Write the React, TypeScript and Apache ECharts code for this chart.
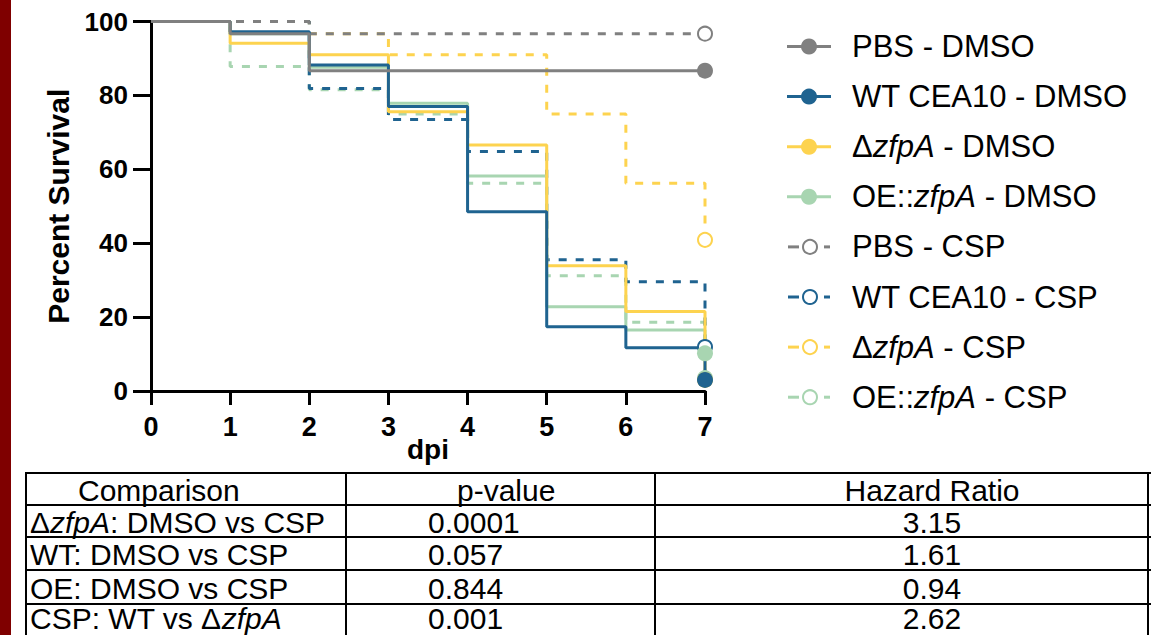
import React, { useEffect, useRef } from 'react';
import * as echarts from 'echarts';

// ---------- data ----------
const days = [0, 1, 2, 3, 4, 5, 6, 7];
const yTicks = [0, 20, 40, 60, 80, 100];

const seriesNames = [
  'PBS - DMSO',
  'WT CEA10 - DMSO',
  'ΔzfpA - DMSO',
  'OE::zfpA - DMSO',
  'PBS - CSP',
  'WT CEA10 - CSP',
  'ΔzfpA - CSP',
  'OE::zfpA - CSP',
];
// value[i] = percent survival from day i onward
const pbsDmso = [100, 96.7, 86.7, 86.7, 86.7, 86.7, 86.7, 86.7];
const wtDmso = [100, 97.2, 88.2, 77.0, 48.5, 17.4, 11.7, 3.0];
const dzfpaDmso = [100, 94.1, 91.0, 75.6, 66.6, 33.9, 21.5, 3.0];
const oeDmso = [100, 96.7, 87.6, 77.9, 58.2, 22.8, 16.5, 10.2];
const pbsCsp = [100, 100, 96.7, 96.7, 96.7, 96.7, 96.7, 96.7];
const wtCsp = [100, 100, 81.9, 73.5, 64.8, 35.5, 29.6, 11.9];
const dzfpaCsp = [100, 100, 96.7, 91.0, 91.0, 75.0, 56.2, 40.9];
const oeCsp = [100, 87.8, 81.5, 75.0, 56.2, 31.2, 18.6, 3.5];

const seriesValues = [pbsDmso, wtDmso, dzfpaDmso, oeDmso, pbsCsp, wtCsp, dzfpaCsp, oeCsp];
const seriesColors = ['#808080', '#1f6390', '#fdd34f', '#a8d5b1', '#808080', '#1f6390', '#fdd34f', '#a8d5b1'];
const seriesDashed = [false, false, false, false, true, true, true, true];

const tableHeader = ['Comparison', 'p-value', 'Hazard Ratio'];
const comparisons = ['ΔzfpA: DMSO vs CSP', 'WT: DMSO vs CSP', 'OE: DMSO vs CSP', 'CSP: WT vs ΔzfpA'];
const pValues = ['0.0001', '0.057', '0.844', '0.001'];
const hazardRatios = ['3.15', '1.61', '0.94', '2.62'];

// ---------- helpers ----------
const FONT = '"Liberation Sans", Arial, Helvetica, sans-serif';

const toRich = (s: string) => {
  const parts = s.split('zfpA');
  let out = '';
  parts.forEach((p, i) => {
    if (p) out += '{n|' + p + '}';
    if (i < parts.length - 1) out += '{i|zfpA}';
  });
  return out;
};

export default function App() {
  const ref = useRef<HTMLDivElement>(null);

  useEffect(() => {
    if (!ref.current) return;
    const chart = echarts.init(ref.current, undefined, { renderer: 'svg' });

    const series: any[] = [];
    for (let k = seriesNames.length - 1; k >= 0; k--) {
      const vals = seriesValues[k];
      const color = seriesColors[k];
      const dashed = seriesDashed[k];
      series.push({
        type: 'line',
        name: seriesNames[k],
        step: 'end',
        clip: false,
        silent: true,
        symbol: 'circle',
        symbolSize: dashed ? 14 : 16,
        showSymbol: true,
        showAllSymbol: true,
        data: vals.map((v, i) =>
          i === vals.length - 1
            ? { value: [days[i], v] }
            : { value: [days[i], v], symbol: 'none' }
        ),
        lineStyle: {
          color,
          width: 3,
          type: dashed ? [8, 9] : 'solid',
        },
        itemStyle: {
          color: dashed ? '#ffffff' : color,
          borderColor: color,
          borderWidth: dashed ? 2 : 0,
          opacity: 1,
        },
        emphasis: { disabled: true },
      });
    }

    const graphics: any[] = [];
    // left maroon stripe
    graphics.push({ type: 'rect', shape: { x: 0, y: 0, width: 11, height: 635 }, style: { fill: '#7f0000' }, silent: true });

    // legend
    const richStyle = {
      n: { fontFamily: FONT, fontSize: 31, fill: '#000' },
      i: { fontFamily: FONT, fontSize: 31, fontStyle: 'italic', fill: '#000' },
    };
    seriesNames.forEach((name, k) => {
      const y = 46.5 + 50.1 * k;
      const color = seriesColors[k];
      if (seriesDashed[k]) {
        graphics.push({ type: 'line', shape: { x1: 788, y1: y, x2: 799, y2: y }, style: { stroke: color, lineWidth: 3 } });
        graphics.push({ type: 'line', shape: { x1: 824, y1: y, x2: 830, y2: y }, style: { stroke: color, lineWidth: 3 } });
        graphics.push({ type: 'circle', shape: { cx: 810, cy: y, r: 7 }, style: { fill: '#fff', stroke: color, lineWidth: 2 } });
      } else {
        graphics.push({ type: 'line', shape: { x1: 787, y1: y, x2: 831, y2: y }, style: { stroke: color, lineWidth: 3 } });
        graphics.push({ type: 'circle', shape: { cx: 809, cy: y, r: 8 }, style: { fill: color } });
      }
      graphics.push({
        type: 'text',
        x: 852,
        y: y,
        style: { text: toRich(name), rich: richStyle, verticalAlign: 'middle', align: 'left' },
      });
    });

    // table
    const tLeft = 26, c1 = 346, c2 = 655, tRight = 1148;
    const hLines = [473, 505, 537, 570, 604, 637];
    hLines.forEach((yy) => {
      graphics.push({ type: 'line', shape: { x1: tLeft - 1, y1: yy, x2: 1151, y2: yy }, style: { stroke: '#000', lineWidth: 2 } });
    });
    [tLeft, c1, c2, tRight].forEach((xx) => {
      graphics.push({ type: 'line', shape: { x1: xx, y1: 472, x2: xx, y2: 640 }, style: { stroke: '#000', lineWidth: 2 } });
    });
    const tRich = {
      n: { fontFamily: FONT, fontSize: 30, lineHeight: 24, fill: '#000' },
      i: { fontFamily: FONT, fontSize: 30, lineHeight: 24, fontStyle: 'italic', fill: '#000' },
    };
    const rowCenter = (r: number) => Math.min((hLines[r] + hLines[r + 1]) / 2 + 1, 618);
    graphics.push({ type: 'text', x: 78, y: rowCenter(0), style: { text: toRich(tableHeader[0]), rich: tRich, verticalAlign: 'middle', align: 'left' } });
    graphics.push({ type: 'text', x: 457, y: rowCenter(0), style: { text: toRich(tableHeader[1]), rich: tRich, verticalAlign: 'middle', align: 'left' } });
    graphics.push({ type: 'text', x: 932, y: rowCenter(0), style: { text: toRich(tableHeader[2]), rich: tRich, verticalAlign: 'middle', align: 'center' } });
    comparisons.forEach((c, r) => {
      const yy = rowCenter(r + 1);
      graphics.push({ type: 'text', x: 30, y: yy, style: { text: toRich(c), rich: tRich, verticalAlign: 'middle', align: 'left' } });
      graphics.push({ type: 'text', x: 428, y: yy, style: { text: toRich(pValues[r]), rich: tRich, verticalAlign: 'middle', align: 'left' } });
      graphics.push({ type: 'text', x: 932, y: yy, style: { text: toRich(hazardRatios[r]), rich: tRich, verticalAlign: 'middle', align: 'center' } });
    });

    chart.setOption({
      animation: false,
      backgroundColor: '#ffffff',
      grid: { left: 151, right: 446, top: 21.5, bottom: 244, containLabel: false },
      xAxis: {
        type: 'value',
        min: 0,
        max: 7,
        interval: 1,
        name: 'dpi',
        nameLocation: 'middle',
        nameGap: 44,
        nameMoveOverlap: false,
        nameTextStyle: { fontFamily: FONT, fontWeight: 'bold', fontSize: 28, color: '#000' },
        axisLine: { show: true, onZero: false, lineStyle: { color: '#000', width: 3 } },
        axisTick: { show: true, length: 14, lineStyle: { color: '#000', width: 3 } },
        axisLabel: {
          margin: 22,
          fontFamily: FONT,
          fontWeight: 'bold',
          fontSize: 27,
          color: '#000',
          formatter: (v: number) => (days.indexOf(v) >= 0 ? String(v) : ''),
        },
        splitLine: { show: false },
      },
      yAxis: {
        type: 'value',
        min: yTicks[0],
        max: yTicks[yTicks.length - 1],
        interval: 20,
        name: 'Percent Survival',
        nameLocation: 'middle',
        nameGap: 78,
        nameMoveOverlap: false,
        nameTextStyle: { fontFamily: FONT, fontWeight: 'bold', fontSize: 30, color: '#000' },
        axisLine: { show: true, lineStyle: { color: '#000', width: 3 } },
        axisTick: { show: true, length: 18, lineStyle: { color: '#000', width: 3 } },
        axisLabel: { margin: 23, fontFamily: FONT, fontWeight: 'bold', fontSize: 26, color: '#000' },
        splitLine: { show: false },
      },
      series,
      graphic: graphics,
    });

    return () => {
      chart.dispose();
    };
  }, []);

  return (
    <div
      ref={ref}
      style={{ position: 'fixed', left: 0, top: 0, width: 1151, height: 635, background: '#fff' }}
    />
  );
}
